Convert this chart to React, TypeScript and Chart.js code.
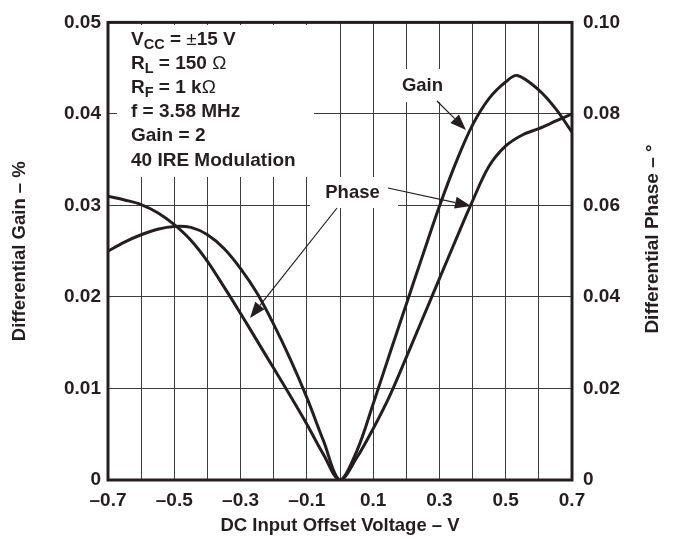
import React, { useEffect, useRef } from 'react';
import { Chart, registerables } from 'chart.js';

Chart.register(...registerables);

// ---- data ----
const gainVoltage = [-0.7, -0.65, -0.6, -0.55, -0.5, -0.45, -0.4, -0.35, -0.3, -0.25, -0.2, -0.15, -0.1, -0.05, 0, 0.05, 0.1, 0.15, 0.2, 0.25, 0.3, 0.35, 0.4, 0.45, 0.5, 0.535, 0.6, 0.65, 0.7];
const gainPercent = [0.025, 0.026, 0.0268, 0.0274, 0.0277, 0.0276, 0.0268, 0.0253, 0.0231, 0.0204, 0.017, 0.0132, 0.009, 0.0043, 0, 0.0031, 0.0083, 0.0138, 0.0192, 0.0246, 0.0299, 0.0347, 0.0388, 0.0417, 0.0435, 0.0442, 0.0426, 0.0406, 0.038];

const phaseVoltage = [-0.7, -0.65, -0.6, -0.55, -0.5, -0.45, -0.4, -0.35, -0.3, -0.25, -0.2, -0.15, -0.1, -0.05, 0, 0.05, 0.1, 0.15, 0.2, 0.25, 0.3, 0.35, 0.4, 0.45, 0.5, 0.55, 0.6, 0.65, 0.7];
const phaseDegrees = [0.062, 0.0612, 0.0602, 0.0584, 0.0558, 0.0524, 0.0478, 0.0422, 0.0364, 0.0304, 0.0244, 0.0184, 0.0122, 0.0056, 0, 0.0048, 0.0112, 0.0184, 0.0268, 0.0354, 0.044, 0.0526, 0.061, 0.0686, 0.073, 0.0754, 0.0768, 0.0784, 0.08];

const xLabelledTicks = [-0.7, -0.5, -0.3, -0.1, 0.1, 0.3, 0.5, 0.7];

const xTitle = 'DC Input Offset Voltage – V';
const yLeftTitle = 'Differential Gain – %';
const yRightTitle = 'Differential Phase – °';

type Piece = { t: string; sub?: boolean; thin?: boolean };
const annotationLines: Piece[][] = [
  [{ t: 'V' }, { t: 'CC', sub: true }, { t: ' = ' }, { t: '±', thin: true }, { t: '15 V' }],
  [{ t: 'R' }, { t: 'L', sub: true }, { t: ' = 150 ' }, { t: 'Ω', thin: true }],
  [{ t: 'R' }, { t: 'F', sub: true }, { t: ' = 1 k' }, { t: 'Ω', thin: true }],
  [{ t: 'f = 3.58 MHz' }],
  [{ t: 'Gain = 2' }],
  [{ t: '40 IRE Modulation' }],
];

const FAMILY = '"Liberation Sans", Arial, Helvetica, sans-serif';
const INK = '#231f20';
const GRID = '#3c3c3c';

function drawArrow(ctx: CanvasRenderingContext2D, x1: number, y1: number, x2: number, y2: number) {
  const ang = Math.atan2(y2 - y1, x2 - x1);
  const L = 16;
  const W = 6;
  const bx = x2 - L * Math.cos(ang);
  const by = y2 - L * Math.sin(ang);
  ctx.beginPath();
  ctx.moveTo(x1, y1);
  ctx.lineTo(bx, by);
  ctx.stroke();
  ctx.beginPath();
  ctx.moveTo(x2, y2);
  ctx.lineTo(bx + W * Math.sin(ang), by - W * Math.cos(ang));
  ctx.lineTo(bx - W * Math.sin(ang), by + W * Math.cos(ang));
  ctx.closePath();
  ctx.fill();
}

const decorPlugin = {
  id: 'decor',
  beforeDatasetsDraw(chart: any) {
    const ctx: CanvasRenderingContext2D = chart.ctx;
    ctx.save();
    ctx.fillStyle = '#ffffff';
    ctx.fillRect(117, 25, 197, 152); // conditions box
    ctx.fillRect(310, 177, 88, 31); // "Phase" label box
    ctx.fillRect(396, 69, 54, 33); // "Gain" label box
    ctx.restore();
  },
  afterDatasetsDraw(chart: any) {
    const ctx: CanvasRenderingContext2D = chart.ctx;
    const { left, top, right, bottom } = chart.chartArea;
    ctx.save();
    // frame
    ctx.strokeStyle = INK;
    ctx.lineWidth = 3;
    ctx.strokeRect(left, top, right - left, bottom - top);

    // conditions text
    ctx.fillStyle = INK;
    ctx.textBaseline = 'alphabetic';
    ctx.textAlign = 'left';
    const base0 = 44.5;
    const step = 24.2;
    annotationLines.forEach((line, i) => {
      let x = 131;
      const y = base0 + i * step;
      line.forEach((p) => {
        if (p.sub) {
          ctx.font = `bold 14.5px ${FAMILY}`;
          ctx.fillText(p.t, x, y + 4.5);
        } else if (p.thin) {
          ctx.font = `19px ${FAMILY}`;
          ctx.fillText(p.t, x, y);
        } else {
          ctx.font = `bold 19px ${FAMILY}`;
          ctx.fillText(p.t, x, y);
        }
        x += ctx.measureText(p.t).width;
      });
    });

    // labels
    ctx.font = `bold 18.5px ${FAMILY}`;
    ctx.textAlign = 'center';
    ctx.textBaseline = 'middle';
    ctx.fillText('Gain', 422.5, 85.5);
    ctx.fillText('Phase', 352.5, 192.5);

    // arrows
    ctx.strokeStyle = INK;
    ctx.fillStyle = INK;
    ctx.lineWidth = 1.2;
    drawArrow(ctx, 437, 101, 466, 130);
    drawArrow(ctx, 388, 188, 471, 206);
    drawArrow(ctx, 337, 208, 250, 318);

    // right axis title (reads bottom to top)
    ctx.save();
    ctx.translate(653, 239);
    ctx.rotate(-Math.PI / 2);
    ctx.font = `bold 19px ${FAMILY}`;
    ctx.textAlign = 'center';
    ctx.textBaseline = 'middle';
    ctx.fillText(yRightTitle, 0, 0);
    ctx.restore();

    ctx.restore();
  },
};

export default function App() {
  const ref = useRef<HTMLCanvasElement | null>(null);

  useEffect(() => {
    if (!ref.current) return;
    const chart = new Chart(ref.current, {
      type: 'line',
      data: {
        datasets: [
          {
            label: 'Gain',
            data: gainVoltage.map((v, i) => ({ x: v, y: gainPercent[i] })),
            yAxisID: 'y',
            borderColor: INK,
            borderWidth: 3,
            pointRadius: 0,
            tension: 0.35,
            fill: false,
          },
          {
            label: 'Phase',
            data: phaseVoltage.map((v, i) => ({ x: v, y: phaseDegrees[i] })),
            yAxisID: 'y1',
            borderColor: INK,
            borderWidth: 3,
            pointRadius: 0,
            tension: 0.35,
            fill: false,
          },
        ],
      },
      options: {
        animation: false,
        responsive: false,
        devicePixelRatio: 1,
        layout: { padding: { top: 16, left: 0, right: 0, bottom: 0 } },
        plugins: {
          legend: { display: false },
          tooltip: { enabled: false },
        },
        scales: {
          x: {
            type: 'linear',
            min: -0.7,
            max: 0.7,
            afterFit: (s: any) => {
              s.height = 60;
            },
            border: { display: false },
            grid: { display: true, color: GRID, lineWidth: 1, drawTicks: false },
            ticks: {
              stepSize: 0.1,
              autoSkip: false,
              maxRotation: 0,
              padding: 9,
              color: INK,
              font: { family: FAMILY, size: 19, weight: 'bold' },
              callback: (value: any) => {
                const v = Math.round(Number(value) * 10) / 10;
                if (!xLabelledTicks.some((t) => Math.abs(t - v) < 1e-6)) return '';
                return v < 0 ? '–' + Math.abs(v).toFixed(1) : v.toFixed(1);
              },
            },
            title: {
              display: true,
              text: xTitle,
              color: INK,
              font: { family: FAMILY, size: 18.5, weight: 'bold' },
              padding: { top: 0, bottom: 3 },
            },
          },
          y: {
            type: 'linear',
            position: 'left',
            min: 0,
            max: 0.05,
            afterFit: (s: any) => {
              s.width = 108;
            },
            border: { display: false },
            grid: { display: true, color: GRID, lineWidth: 1, drawTicks: false },
            ticks: {
              stepSize: 0.01,
              padding: 7,
              color: INK,
              font: { family: FAMILY, size: 19, weight: 'bold' },
              callback: (value: any) => {
                const v = Number(value);
                return Math.abs(v) < 1e-9 ? '0' : v.toFixed(2);
              },
            },
            title: {
              display: true,
              text: yLeftTitle,
              color: INK,
              font: { family: FAMILY, size: 18.5, weight: 'bold' },
              padding: { top: 9, bottom: 0 },
            },
          },
          y1: {
            type: 'linear',
            position: 'right',
            min: 0,
            max: 0.1,
            afterFit: (s: any) => {
              s.width = 102;
            },
            border: { display: false },
            grid: { display: false, drawTicks: false },
            ticks: {
              stepSize: 0.02,
              padding: 11,
              color: INK,
              font: { family: FAMILY, size: 19, weight: 'bold' },
              callback: (value: any) => {
                const v = Number(value);
                return Math.abs(v) < 1e-9 ? '0' : v.toFixed(2);
              },
            },
          },
        },
      } as any,
      plugins: [decorPlugin],
    });
    return () => chart.destroy();
  }, []);

  return (
    <div style={{ position: 'absolute', left: 0, top: 0, width: 674, height: 540 }}>
      <canvas ref={ref} width={674} height={540} style={{ width: 674, height: 540, display: 'block' }} />
    </div>
  );
}
